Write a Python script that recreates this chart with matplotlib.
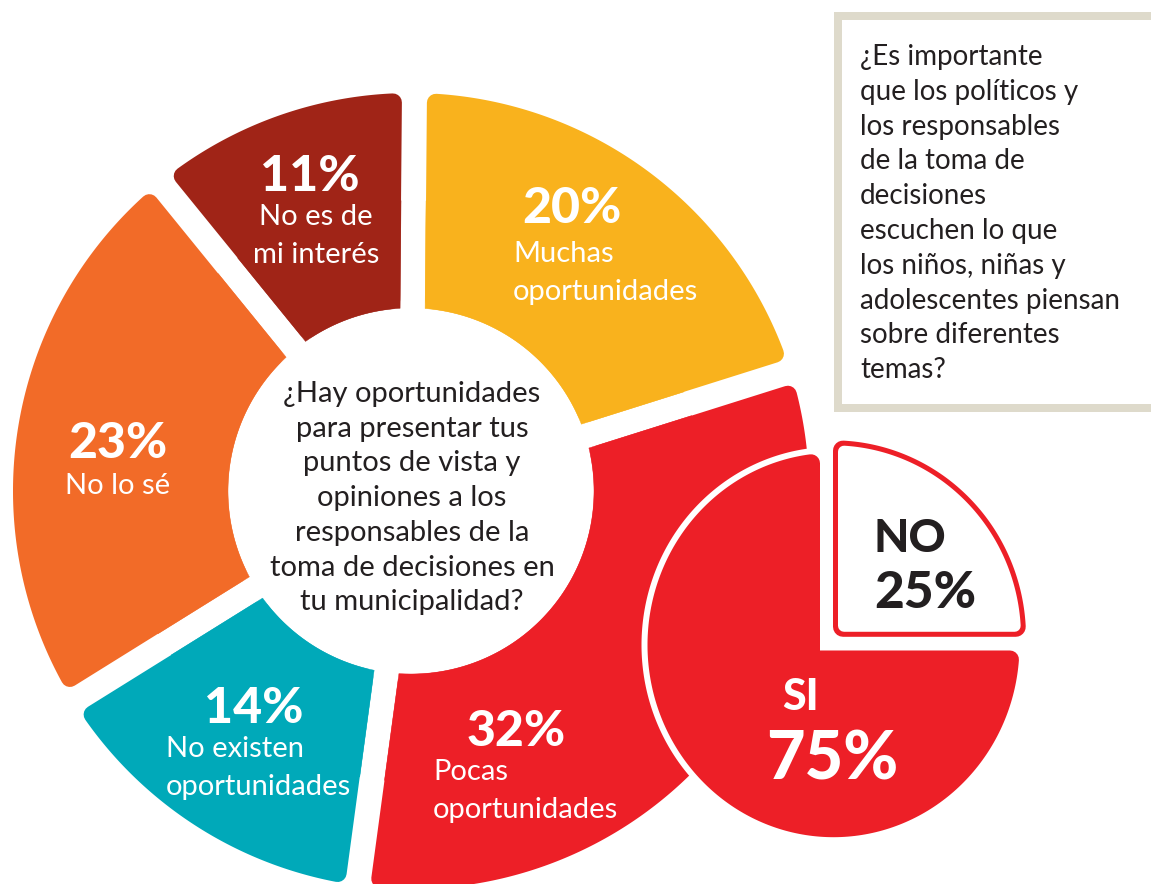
import numpy as np
import matplotlib.pyplot as plt
from matplotlib.patches import Polygon, Rectangle

plt.rcParams['font.family'] = ['Lato', 'DejaVu Sans']

W, H = 1151, 884
PT = 72 / 100  # points per pixel at dpi 100

# ---- data ----
donut_names = ['Muchas\noportunidades', 'Pocas\noportunidades',
               'No existen\noportunidades', 'No lo sé', 'No es de\nmi interés']
donut_values = [20, 32, 14, 23, 11]
donut_colors = ['#F9B21D', '#ED1F27', '#00A9B9', '#F26B28', '#A02417']

center_question = ['¿Hay oportunidades', 'para presentar tus', 'puntos de vista y',
                   'opiniones a los', 'responsables de la',
                   'toma de decisiones en', 'tu municipalidad?']

side_question = ['¿Es importante', 'que los políticos y', 'los responsables',
                 'de la toma de', 'decisiones', 'escuchen lo que',
                 'los niños, niñas y', 'adolescentes piensan',
                 'sobre diferentes', 'temas?']

pie_names = ['NO', 'SI']
pie_values = [25, 75]

RED = '#ED1F27'
DARK = '#231F20'
NUM_W = 'black'


def sector_pts(cx, cy, r_out, r_in, t1, t2, e1, e2, sy=1.0, n=240):
    # annular (or full) sector from t1 to t2 (ccw, degrees); radial edges pushed in by e1/e2
    a1, a2 = np.radians(t1), np.radians(t2)
    th = np.linspace(a1 + np.arcsin(e1 / r_out), a2 - np.arcsin(e2 / r_out), n)
    xs = list(r_out * np.cos(th))
    ys = list(r_out * np.sin(th))
    if r_in > 0:
        th = np.linspace(a2 - np.arcsin(e2 / r_in), a1 + np.arcsin(e1 / r_in), n)
        xs += list(r_in * np.cos(th))
        ys += list(r_in * np.sin(th))
    else:
        n1 = [-np.sin(a1), np.cos(a1)]
        n2 = [np.sin(a2), -np.cos(a2)]
        p = np.linalg.solve(np.array([n1, n2]), np.array([e1, e2]))
        xs.append(p[0])
        ys.append(p[1])
    return np.column_stack([cx + np.array(xs), cy - np.array(ys) * sy])


def rounded_sector(ax, cx, cy, r_out, r_in, t1, t2, e1, e2, rc, color, sy=1.0, z=1):
    r_in2 = r_in + rc if r_in > 0 else 0
    pts = sector_pts(cx, cy, r_out - rc, r_in2, t1, t2, e1 + rc, e2 + rc, sy)
    ax.add_patch(Polygon(pts, closed=True, fc=color, ec=color, lw=2 * rc * PT,
                         joinstyle='round', zorder=z))


fig = plt.figure(figsize=(W / 100, H / 100), dpi=100)
ax = fig.add_axes([0, 0, 1, 1])
ax.set_xlim(0, W)
ax.set_ylim(H, 0)
ax.axis('off')

# ---- donut ----
cx, cy = 411, 491
R_out, R_in = 398, 183
gap = 12.5
start = 89.5
bounds = start - 3.6 * np.concatenate([[0], np.cumsum(donut_values)])
for i, col in enumerate(donut_colors):
    t2, t1 = bounds[i], bounds[i + 1]
    rounded_sector(ax, cx, cy, R_out, R_in, t1, t2, gap, gap, 9, col, z=1)
    # keep the inner corners sharp
    pts = sector_pts(cx, cy, (R_out + R_in) / 2, R_in, t1, t2, gap, gap)
    ax.add_patch(Polygon(pts, closed=True, fc=col, ec=col, lw=0.3, zorder=1))

# percentages and names on the donut
pct_pos = [(572, 223), (516, 746), (254, 723), (118, 458), (310, 191)]
name_pos = [(513, 262, 'left'), (433, 780, 'left'), (166, 757, 'left'),
            (118, 494, 'center'), (316, 225, 'center')]
for v, name, (px, py), (nx, ny, ha) in zip(donut_values, donut_names, pct_pos, name_pos):
    ax.text(px, py, f'{v}%', color='white', fontsize=36, fontweight=NUM_W,
            ha='center', va='baseline', zorder=5)
    for k, line in enumerate(name.split('\n')):
        ax.text(nx, ny + k * 38, line, color='white', fontsize=21,
                ha=ha, va='baseline', zorder=5)

for k, line in enumerate(center_question):
    ax.text(412, 402 + k * 34.7, line, color=DARK, fontsize=21,
            ha='center', va='baseline', zorder=5)

# ---- small pie: SI / NO ----
pcx, pcy, pr, psy = 833.5, 645, 186, 1.035
ncx, ncy, nr, nsy = 833, 637, 193, 1.02
angles = 90 - 3.6 * np.concatenate([[0], np.cumsum(pie_values)])
no_t1, no_t2 = angles[1], angles[0]
si_t1, si_t2 = angles[2], angles[1]

# SI: white ring then red body
rounded_sector(ax, pcx, pcy, pr + 6, 0, si_t1, si_t2, 7.5, -1, 15, 'white', psy, z=2)
rounded_sector(ax, pcx, pcy, pr, 0, si_t1, si_t2, 13.5, 5, 9, RED, psy, z=3)
# NO: red outline, white inside
rounded_sector(ax, ncx, ncy, nr, 0, no_t1, no_t2, 0, 0, 10, RED, nsy, z=3)
rounded_sector(ax, ncx, ncy, nr - 5, 0, no_t1, no_t2, 5, 5, 6, 'white', nsy, z=4)

ax.text(910, 552, pie_names[0], color=DARK, fontsize=33, fontweight=NUM_W,
        ha='center', va='baseline', zorder=6)
ax.text(925, 608, f'{pie_values[0]}%', color=DARK, fontsize=37, fontweight=NUM_W,
        ha='center', va='baseline', zorder=6)
ax.text(801, 710, pie_names[1], color='white', fontsize=31, fontweight=NUM_W,
        ha='center', va='baseline', zorder=6)
ax.text(832, 780, f'{pie_values[1]}%', color='white', fontsize=48, fontweight=NUM_W,
        ha='center', va='baseline', zorder=6)

# ---- side question box ----
ax.add_patch(Rectangle((838.5, 16), 400, 391.5, fc='white', ec='#DEDACB',
                       lw=8 * PT, zorder=1))
for k, line in enumerate(side_question):
    ax.text(860, 65 + k * 34.8, line, color=DARK, fontsize=20,
            ha='left', va='baseline', zorder=5)

fig.savefig('out.png', dpi=100)
